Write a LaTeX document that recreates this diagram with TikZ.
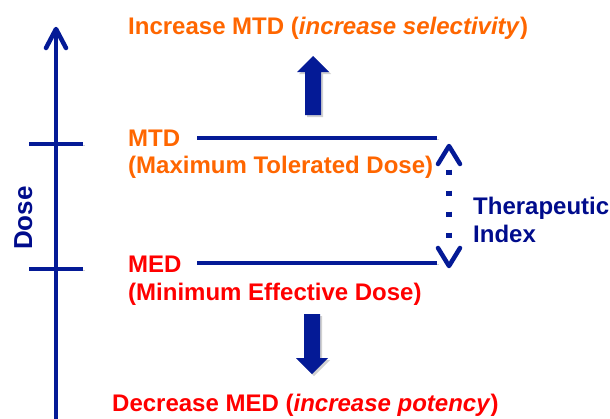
\documentclass[tikz,border=0pt]{standalone}
\usepackage{fontspec}
\setmainfont{Liberation Sans}
\begin{document}
\begin{tikzpicture}[x=1pt,y=-1pt,
  navy/.style={color={rgb,255:red,4;green,26;blue,150}},
  lbl/.style={font=\bfseries\fontsize{24}{28}\selectfont, inner sep=0pt, anchor=base west},
  orangetxt/.style={lbl, text={rgb,255:red,255;green,102;blue,0}},
  redtxt/.style={lbl, text={rgb,255:red,255;green,0;blue,0}},
  bluetxt/.style={lbl, text={rgb,255:red,0;green,12;blue,140}},
  soft/.style={preaction={draw=black, draw opacity=0.18, transform canvas={shift={(1.5pt,-1.5pt)}}}},
  softfill/.style={preaction={fill=black, fill opacity=0.18, transform canvas={shift={(2pt,-2pt)}}}},
  rule/.style={navy, draw, line width=4.5pt, soft},
  chevron/.style={navy, draw, line width=4.5pt, line cap=round, line join=round},
  bigarrow/.style={navy, fill, softfill},
  dots/.style={navy, draw, line width=5.5pt, dash pattern=on 5.5pt off 15.5pt}
]
\useasboundingbox (0,0) rectangle (610,418);

% dose axis with its open arrow head
\coordinate (axisbot) at (56,420);
\coordinate (axistop) at (56,29);
\draw[rule] (axisbot) -- (axistop);
\draw[chevron] (axistop) ++(-10,19) -- (axistop) -- ++(10,19);

% tick marks on the axis
\coordinate (tickAl) at (29,144);
\coordinate (tickAr) at (83,144);
\coordinate (tickBl) at (29,269);
\coordinate (tickBr) at (83,269);
\draw[rule] (tickAl) -- (tickAr);
\draw[rule] (tickBl) -- (tickBr);

\node[bluetxt, anchor=base, rotate=90, font=\bfseries\fontsize{26}{30}\selectfont] (dose) at (32,218) {Dose};

% dose levels
\coordinate (mtdL) at (197,138);
\coordinate (mtdR) at (437,138);
\coordinate (medL) at (197,263);
\coordinate (medR) at (437,263);
\draw[rule] (mtdL) -- (mtdR);
\draw[rule] (medL) -- (medR);

\node[orangetxt] (mtd) at (128,146) {MTD};
\node[orangetxt] (mtdlong) at (128,173) {(Maximum Tolerated Dose)};
\node[redtxt] (med) at (128,272) {MED};
\node[redtxt] (medlong) at (128,300) {(Minimum Effective Dose)};

% therapeutic index: dotted double arrow between the two levels
\coordinate (tiTop) at (449,146);
\coordinate (tiBot) at (449,266);
\coordinate (dotTop) at (449,169.5);
\coordinate (dotBot) at (449,240);
\draw[chevron] (tiTop) ++(-11,18) -- (tiTop) -- ++(11,18);
\draw[chevron] (tiBot) ++(-11,-18) -- (tiBot) -- ++(11,-18);
\draw[dots] (dotTop) -- (dotBot);

\node[bluetxt] (ther) at (473,214) {Therapeutic};
\node[bluetxt] (index) at (473,242) {Index};

% block arrows
\fill[bigarrow] (313,56) -- (329,72) -- (321,72) -- (321,115) -- (305,115) -- (305,72) -- (297,72) -- cycle;
\fill[bigarrow] (312,374) -- (328,358) -- (320,358) -- (320,314) -- (304,314) -- (304,358) -- (296,358) -- cycle;

\node[orangetxt] (up) at (128,34) {Increase MTD (\textit{increase selectivity})};
\node[redtxt] (down) at (112,411) {Decrease MED (\textit{increase potency})};
\end{tikzpicture}
\end{document}
